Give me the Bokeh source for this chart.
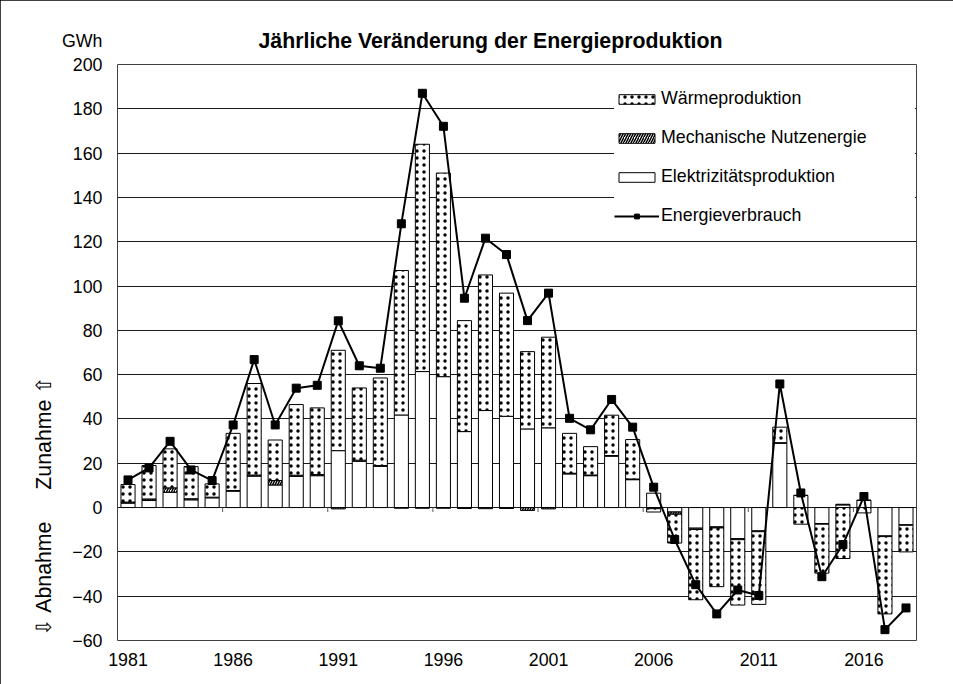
import math
from bokeh.plotting import figure
from bokeh.models import Range1d, FixedTicker, Legend, LegendItem, Label, Title
from bokeh.embed import file_html
from bokeh.resources import INLINE

# ---------------- data ----------------
years = list(range(1981, 2019))
elektrizitaet = [2.0, 3.2, 6.9, 3.5, 4.4, 7.4, 14.2, 10.2, 14.1, 14.4,
                 25.7, 20.9, 18.6, 41.8, 61.4, 59.1, 34.3, 43.8, 41.2, 35.5,
                 36.0, 15.2, 14.4, 23.2, 12.6, 6.5, -2.0, -9.3, -8.7, -14.0,
                 -10.5, 29.0, 5.5, -7.2, 1.2, 3.2, -12.8, -7.8]
mechanisch = [0.5, 0.7, 2.0, 0.5, 0.3, 0.3, 0.5, 2.0, 0.5, 0.5,
              -0.6, 0.5, 0.4, -0.3, -0.3, -0.3, -0.4, -0.5, -0.4, -1.3,
              -0.6, 0.3, 0.3, 0.3, 0.3, -0.5, -1.0, -0.6, -0.5, -0.5,
              -0.4, 0.3, 0.0, -0.3, 0.3, 0.2, -0.3, -0.2]
waerme = [7.9, 15.1, 17.6, 14.5, 6.0, 25.8, 41.3, 18.3, 31.9, 30.1,
          45.3, 32.6, 39.5, 65.2, 102.6, 91.9, 50.1, 61.2, 55.6, 34.9,
          40.9, 18.0, 12.8, 18.2, 17.8, -1.5, -13.0, -31.7, -26.5, -29.5,
          -32.8, 7.0, -7.5, -22.1, -23.0, -2.4, -34.9, -12.0]
energieverbrauch = [12.5, 17.9, 29.9, 17.0, 12.2, 37.3, 66.8, 37.3, 53.9, 55.2,
                    84.3, 64.0, 62.9, 128.1, 187.0, 172.1, 94.5, 121.6, 114.2, 84.4,
                    96.8, 40.3, 35.1, 48.8, 36.3, 9.2, -14.4, -34.8, -48.0, -37.2,
                    -39.7, 55.8, 6.6, -31.2, -16.7, 5.0, -55.1, -45.3]
label_years = [1981, 1986, 1991, 1996, 2001, 2006, 2011, 2016]
y_ticks = [-60, -40, -20, 0, 20, 40, 60, 80, 100, 120, 140, 160, 180, 200]

title_text = "Jährliche Veränderung der Energieproduktion"
unit_text = "GWh"
side_text = "\u21e9 Abnahme\u2003\u2002Zunahme \u21e7"
names = ["Wärmeproduktion", "Mechanische Nutzenergie",
         "Elektrizitätsproduktion", "Energieverbrauch"]

FONT = "Liberation Sans"
FS = "17.8px"
FS_BIG = "21.3px"

n = len(years)
xs = list(range(n))


def stack(series_list):
    pos = [0.0] * n
    neg = [0.0] * n
    out = []
    for s in series_list:
        b, t = [], []
        for i, v in enumerate(s):
            if v >= 0:
                b.append(pos[i]); pos[i] += v; t.append(pos[i])
            else:
                b.append(neg[i]); neg[i] += v; t.append(neg[i])
        out.append((b, t))
    return out


(e_b, e_t), (m_b, m_t), (w_b, w_t) = stack([elektrizitaet, mechanisch, waerme])

p = figure(frame_width=799, frame_height=576,
           min_border_left=117, min_border_right=37,
           min_border_top=64, min_border_bottom=44,
           x_range=Range1d(-0.5, n - 0.5), y_range=Range1d(-60, 200),
           output_backend="svg", toolbar_location=None)
p.styles = {"outline": "1px solid #000000", "outline-offset": "-1px"}

p.background_fill_color = "white"
p.border_fill_color = "white"
p.outline_line_color = "#404040"
p.outline_line_width = 1

p.xgrid.visible = False
p.ygrid.ticker = FixedTicker(ticks=y_ticks)
p.ygrid.grid_line_color = "#1a1a1a"
p.ygrid.grid_line_width = 1

ya = p.yaxis[0]
ya.ticker = FixedTicker(ticks=y_ticks)
ya.axis_line_color = None
ya.major_tick_line_color = None
ya.minor_tick_line_color = None
ya.major_tick_out = 0
ya.major_tick_in = 0
ya.major_label_standoff = 15
ya.major_label_text_font = FONT
ya.major_label_text_font_size = FS
ya.major_label_text_color = "black"

xa = p.xaxis[0]
tick_idx = [years.index(y) for y in label_years]
xa.ticker = FixedTicker(ticks=tick_idx)
xa.major_label_overrides = {i: str(years[i]) for i in tick_idx}
xa.axis_line_color = None
xa.major_tick_line_color = None
xa.minor_tick_line_color = None
xa.major_tick_out = 0
xa.major_tick_in = 0
xa.major_label_standoff = 12
xa.major_label_text_font = FONT
xa.major_label_text_font_size = FS
xa.major_label_text_color = "black"

# small category ticks on the zero line, between groups of five years
bx = [i - 0.5 for i in tick_idx[1:]]
p.segment(x0=bx, y0=[0] * len(bx), x1=bx, y1=[-2] * len(bx),
          line_color="#595959", line_width=1)

bw = 0.67
r_e = p.vbar(x=xs, width=bw, bottom=e_b, top=e_t, fill_color="white",
             line_color="black", line_width=1)
r_m = p.vbar(x=xs, width=bw, bottom=m_b, top=m_t, fill_color="white",
             line_color="black", line_width=1,
             hatch_pattern="right_diagonal_line", hatch_color="black",
             hatch_scale=5, hatch_weight=1.5)
r_w = p.vbar(x=xs, width=bw, bottom=w_b, top=w_t, fill_color="white",
             line_color="black", line_width=1,
             hatch_pattern="dot", hatch_color="black",
             hatch_scale=7, hatch_weight=3)

r_l = p.line(xs, energieverbrauch, line_color="black", line_width=2)
r_s = p.scatter(xs, energieverbrauch, marker="square", size=8,
                fill_color="black", line_color="black")

legend = Legend(items=[
    LegendItem(label=names[0], renderers=[r_w]),
    LegendItem(label=names[1], renderers=[r_m]),
    LegendItem(label=names[2], renderers=[r_e]),
    LegendItem(label=names[3], renderers=[r_l, r_s]),
], location=(497, 414))
legend.padding = 0
legend.margin = 0
legend.spacing = 18
legend.label_height = 20
legend.glyph_height = 12
legend.glyph_width = 45
legend.label_width = 254
legend.label_standoff = 2
legend.border_line_color = None
legend.background_fill_color = "white"
legend.background_fill_alpha = 1
legend.label_text_font = FONT
legend.label_text_font_size = FS
legend.label_text_color = "black"
p.add_layout(legend)

# chart title and unit label above the plot area
p.add_layout(Label(x=-0.5, y=200, x_offset=141, y_offset=24, text=title_text,
                   text_align="left", text_baseline="middle",
                   text_font=FONT, text_font_size=FS_BIG,
                   text_font_style="bold", text_color="black"),
             "above")
p.add_layout(Label(x=-0.5, y=200, x_offset=-15, y_offset=24, text=unit_text,
                   text_align="right", text_baseline="middle",
                   text_font=FONT, text_font_size=FS, text_color="black"),
             "above")

# direction label along the value axis
p.add_layout(Title(text=side_text, align="left", offset=5, standoff=27,
                   text_font=FONT, text_font_size=FS_BIG,
                   text_font_style="normal", text_color="black"), "left")

open("out.html", "w").write(file_html(p, INLINE))
